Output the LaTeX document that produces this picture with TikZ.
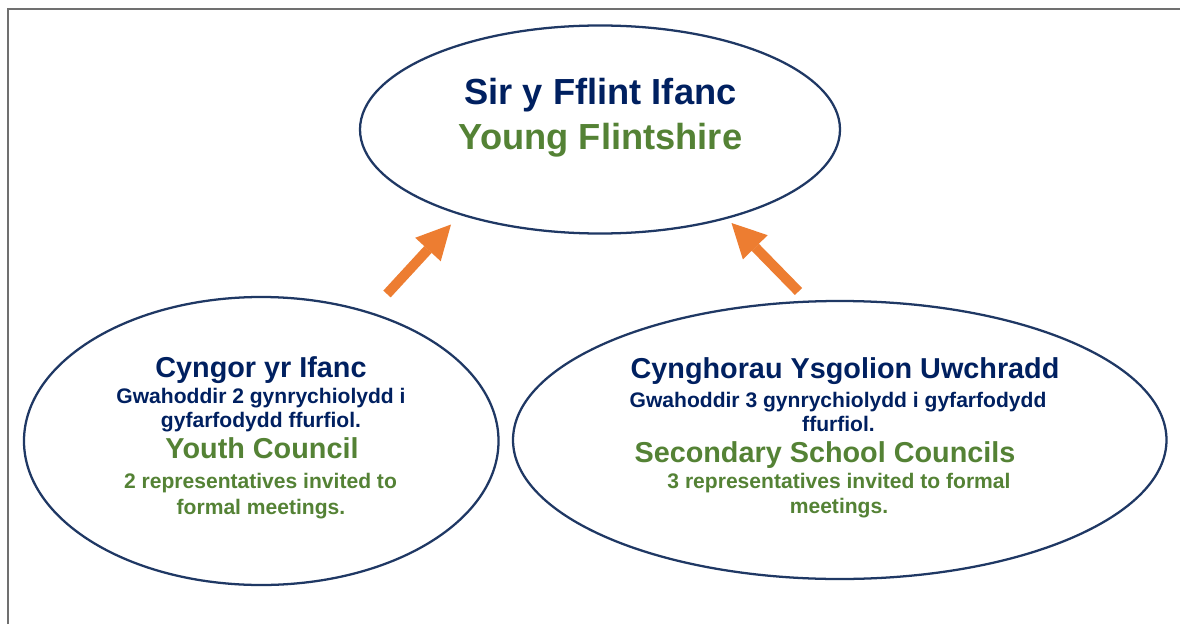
\documentclass[tikz,border=0pt]{standalone}
\usepackage{fontspec}
\setmainfont{Liberation Sans}
\usetikzlibrary{shapes.geometric,arrows.meta}
\definecolor{navy}{HTML}{002060}
\definecolor{ellline}{HTML}{1F3864}
\definecolor{leaf}{HTML}{548235}
\definecolor{orangeA}{HTML}{ED7D31}
\definecolor{framegray}{HTML}{707070}
\tikzset{
  ell/.style={ellipse, draw=ellline, line width=1.7pt, inner sep=0pt, outer sep=0pt},
  txt/.style={anchor=base, inner sep=0pt, font=\bfseries},
  hugeT/.style={txt, font=\fontsize{27.2pt}{30pt}\selectfont\bfseries},
  bigT/.style={txt, font=\fontsize{21.6pt}{24pt}\selectfont\bfseries},
  smallT/.style={txt, font=\fontsize{15.8pt}{18pt}\selectfont\bfseries},
  blockarrow/.style={draw=orangeA, line width=7.5pt,
    -{Triangle[length=25.5pt,width=26pt,line width=0pt]}},
}
\begin{document}
\begin{tikzpicture}[x=0.75pt,y=-0.75pt]
\useasboundingbox (0,0) rectangle (1180,624);
\fill[white] (0,0) rectangle (1180,624);
% frame lines
\coordinate (fbl) at (8,624);
\coordinate (ftl) at (8,9);
\coordinate (ftr) at (1180,9);
\draw[framegray, line width=0.9pt] (fbl) -- (ftl) -- (ftr);
% ellipses
\node[ell, minimum width=360pt, minimum height=156pt] (top) at (600,129.5) {};
\node[ell, minimum width=355.9pt, minimum height=216pt] (left) at (261.25,441) {};
\node[ell, minimum width=490.1pt, minimum height=208.5pt] (right) at (839.75,440) {};
% top texts
\node[hugeT, text=navy] (t1) at (600.5,105) {Sir y Fflint Ifanc};
\node[hugeT, text=leaf] (t2) at (600.5,150) {Young Flintshire};
% left texts
\node[bigT, text=navy] (l1) at (261,377) {Cyngor yr Ifanc};
\node[smallT, text=navy] (l2) at (261,403) {Gwahoddir 2 gynrychiolydd i};
\node[smallT, text=navy] (l3) at (261,427) {gyfarfodydd ffurfiol.};
\node[bigT, text=leaf] (l4) at (262,458) {Youth Council};
\node[smallT, text=leaf] (l5) at (260.5,488) {2 representatives invited to};
\node[smallT, text=leaf] (l6) at (261,514) {formal meetings.};
% right texts
\node[bigT, text=navy] (r1) at (845,378) {Cynghorau Ysgolion Uwchradd};
\node[smallT, text=navy] (r2) at (838,407) {Gwahoddir 3 gynrychiolydd i gyfarfodydd};
\node[smallT, text=navy] (r3) at (838.5,431) {ffurfiol.};
\node[bigT, text=leaf] (r4) at (825,462) {Secondary School Councils};
\node[smallT, text=leaf] (r5) at (839,488) {3 representatives invited to formal};
\node[smallT, text=leaf] (r6) at (839,513) {meetings.};
% arrows
\coordinate (a1s) at (387,294);
\coordinate (a1e) at (451,224.5);
\coordinate (a2s) at (798.5,291.5);
\coordinate (a2e) at (731.5,223);
\draw[blockarrow] (a1s) -- (a1e);
\draw[blockarrow] (a2s) -- (a2e);
\end{tikzpicture}
\end{document}
